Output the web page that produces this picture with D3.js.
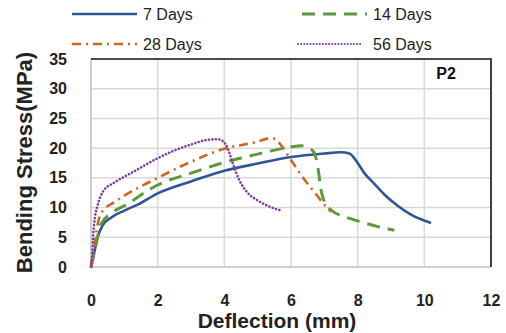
<!DOCTYPE html>
<html>
<head>
<meta charset="utf-8">
<script src="https://cdn.jsdelivr.net/npm/d3@7"></script>
<style>
  body { margin: 0; background: #fff; }
  svg { display: block; font-family: "Liberation Sans", Arial, sans-serif; }
</style>
</head>
<body>
<script>
let width = 506
let height = 333
let margin = { top: 59, right: 15, bottom: 66, left: 91 }

// data
let seriesNames = ["7 Days", "14 Days", "28 Days", "56 Days"]

let x7 = [0, 0.07, 0.2, 0.35, 0.6, 1.0, 1.4, 2, 3, 4, 5, 6, 7, 7.5, 7.75, 8.0, 8.2, 8.5, 8.8, 9.2, 9.6, 10.2]
let y7 = [0, 1.7, 5.0, 7.0, 8.3, 9.5, 10.5, 12.4, 14.4, 16.2, 17.4, 18.5, 19.1, 19.3, 19.1, 17.5, 15.8, 14.0, 12.2, 10.3, 8.8, 7.4]

let x14 = [0, 0.1, 0.3, 0.6, 1, 2, 3, 4, 5, 6, 6.3, 6.55, 6.7, 6.8, 6.9, 7.0, 7.2, 7.6, 8.1, 8.6, 9.1]
let y14 = [0, 2.5, 7.2, 9.0, 10.3, 13.8, 15.8, 17.6, 19.0, 20.2, 20.4, 20.0, 19.2, 17.0, 13.0, 11.0, 9.6, 8.5, 7.6, 6.8, 6.2]

let x28 = [0, 0.1, 0.2, 0.33, 0.7, 1, 2, 3, 4, 5, 5.3, 5.5, 5.7, 6.0, 6.3, 6.7, 7.0, 7.2]
let y28 = [0, 3.5, 7.2, 9.3, 10.9, 12.0, 15.0, 17.7, 19.9, 21.1, 21.6, 21.6, 20.5, 18.0, 15.5, 12.6, 10.5, 9.3]

let x56 = [0, 0.03, 0.07, 0.12, 0.2, 0.37, 0.67, 1.2, 2, 2.5, 3, 3.5, 3.8, 3.95, 4.1, 4.25, 4.45, 4.7, 5.0, 5.3, 5.7]
let y56 = [0, 1.7, 5.7, 8.4, 10.4, 12.8, 14.1, 15.8, 18.3, 19.6, 20.6, 21.4, 21.5, 21.2, 20.0, 17.5, 14.6, 12.5, 11.2, 10.3, 9.5]

let xTicks = [0, 2, 4, 6, 8, 10, 12]
let yTicks = [0, 5, 10, 15, 20, 25, 30, 35]

let colors = ["#2f5597", "#5b9a3c", "#d0661e", "#7a3fa6"]
let dashes = [null, "13 8", "9 5 2 5", "0.1 3.4"]

let series = [
    { name: seriesNames[0], xs: x7, ys: y7 },
    { name: seriesNames[1], xs: x14, ys: y14 },
    { name: seriesNames[2], xs: x28, ys: y28 },
    { name: seriesNames[3], xs: x56, ys: y56 }
]

let x = d3.scaleLinear()
    .domain([0, 12])
    .range([margin.left, width - margin.right])

let y = d3.scaleLinear()
    .domain([0, 35])
    .range([height - margin.bottom, margin.top])

const svg = d3.select("body").append("svg")
    .attr("width", width)
    .attr("height", height)

// grid
svg.append("g")
    .selectAll("line")
    .data(xTicks.slice(1, -1))
    .join("line")
    .attr("x1", d => x(d)).attr("x2", d => x(d))
    .attr("y1", y(0)).attr("y2", y(35))
    .attr("stroke", "#d9d9d9")
    .attr("stroke-width", 1.5)

svg.append("g")
    .selectAll("line")
    .data(yTicks.slice(1, -1))
    .join("line")
    .attr("x1", x(0)).attr("x2", x(12))
    .attr("y1", d => y(d)).attr("y2", d => y(d))
    .attr("stroke", "#d9d9d9")
    .attr("stroke-width", 1.5)

// frame: gray left/bottom, black top/right
svg.append("line")
    .attr("x1", x(0)).attr("x2", x(0)).attr("y1", y(0)).attr("y2", y(35))
    .attr("stroke", "#bfbfbf").attr("stroke-width", 1.5)
svg.append("line")
    .attr("x1", x(0)).attr("x2", x(12)).attr("y1", y(0)).attr("y2", y(0))
    .attr("stroke", "#bfbfbf").attr("stroke-width", 1.5)
svg.append("path")
    .attr("d", `M${x(0)},${y(35)}H${x(12)}V${y(0)}`)
    .attr("fill", "none")
    .attr("stroke", "#111")
    .attr("stroke-width", 1.6)

// axes
const gx = svg.append("g")
    .attr("transform", `translate(0,${y(0)})`)
    .call(d3.axisBottom(x).tickValues(xTicks).tickSize(0).tickPadding(28))
gx.select(".domain").remove()
gx.selectAll("text")
    .attr("font-size", 16)
    .attr("font-weight", "bold")
    .attr("fill", "#222")
    .attr("font-family", "Liberation Sans, Arial, sans-serif")

const gy = svg.append("g")
    .attr("transform", `translate(${x(0)},0)`)
    .call(d3.axisLeft(y).tickValues(yTicks).tickSize(0).tickPadding(24))
gy.select(".domain").remove()
gy.selectAll("text")
    .attr("font-size", 16)
    .attr("font-weight", "bold")
    .attr("fill", "#222")
    .attr("font-family", "Liberation Sans, Arial, sans-serif")

// lines
let line = d3.line()
    .x(d => x(d[0]))
    .y(d => y(d[1]))
    .curve(d3.curveMonotoneX)

svg.append("g")
    .selectAll("path")
    .data(series)
    .join("path")
    .attr("d", d => line(d.xs.map((v, i) => [v, d.ys[i]])))
    .attr("fill", "none")
    .attr("stroke", (d, i) => colors[i])
    .attr("stroke-width", (d, i) => i === 1 ? 3 : 2.6)
    .attr("stroke-dasharray", (d, i) => dashes[i])
    .attr("stroke-linecap", (d, i) => i === 3 ? "round" : "butt")

// legend
let legendPos = [[72, 14], [302, 14], [72, 44], [298, 44]]
const legend = svg.append("g")
    .selectAll("g")
    .data(series)
    .join("g")
    .attr("transform", (d, i) => `translate(${legendPos[i][0]},${legendPos[i][1]})`)

legend.append("line")
    .attr("x1", 0).attr("x2", 65)
    .attr("stroke", (d, i) => colors[i])
    .attr("stroke-width", (d, i) => i === 3 ? 2 : (i === 1 ? 3 : 2.6))
    .attr("stroke-dasharray", (d, i) => i === 3 ? "0.1 3" : dashes[i])
    .attr("stroke-linecap", (d, i) => i === 3 ? "round" : "butt")

legend.append("text")
    .attr("x", (d, i) => i === 3 ? 75 : 71)
    .attr("dy", "0.36em")
    .attr("font-size", 16)
    .attr("fill", "#222")
    .text(d => d.name)

// labels
svg.append("text")
    .attr("x", 446)
    .attr("y", 73)
    .attr("dy", "0.36em")
    .attr("text-anchor", "middle")
    .attr("font-size", 16)
    .attr("font-weight", "bold")
    .attr("fill", "#111")
    .text("P2")

svg.append("text")
    .attr("x", 277)
    .attr("y", 320)
    .attr("dy", "0.36em")
    .attr("text-anchor", "middle")
    .attr("font-size", 21)
    .attr("font-weight", "bold")
    .attr("fill", "#222")
    .text("Deflection (mm)")

svg.append("text")
    .attr("transform", `translate(24,${(50 + 275) / 2}) rotate(-90)`)
    .attr("dy", "0.36em")
    .attr("text-anchor", "middle")
    .attr("font-size", 22)
    .attr("font-weight", "bold")
    .attr("fill", "#222")
    .text("Bending Stress(MPa)")
</script>
</body>
</html>
